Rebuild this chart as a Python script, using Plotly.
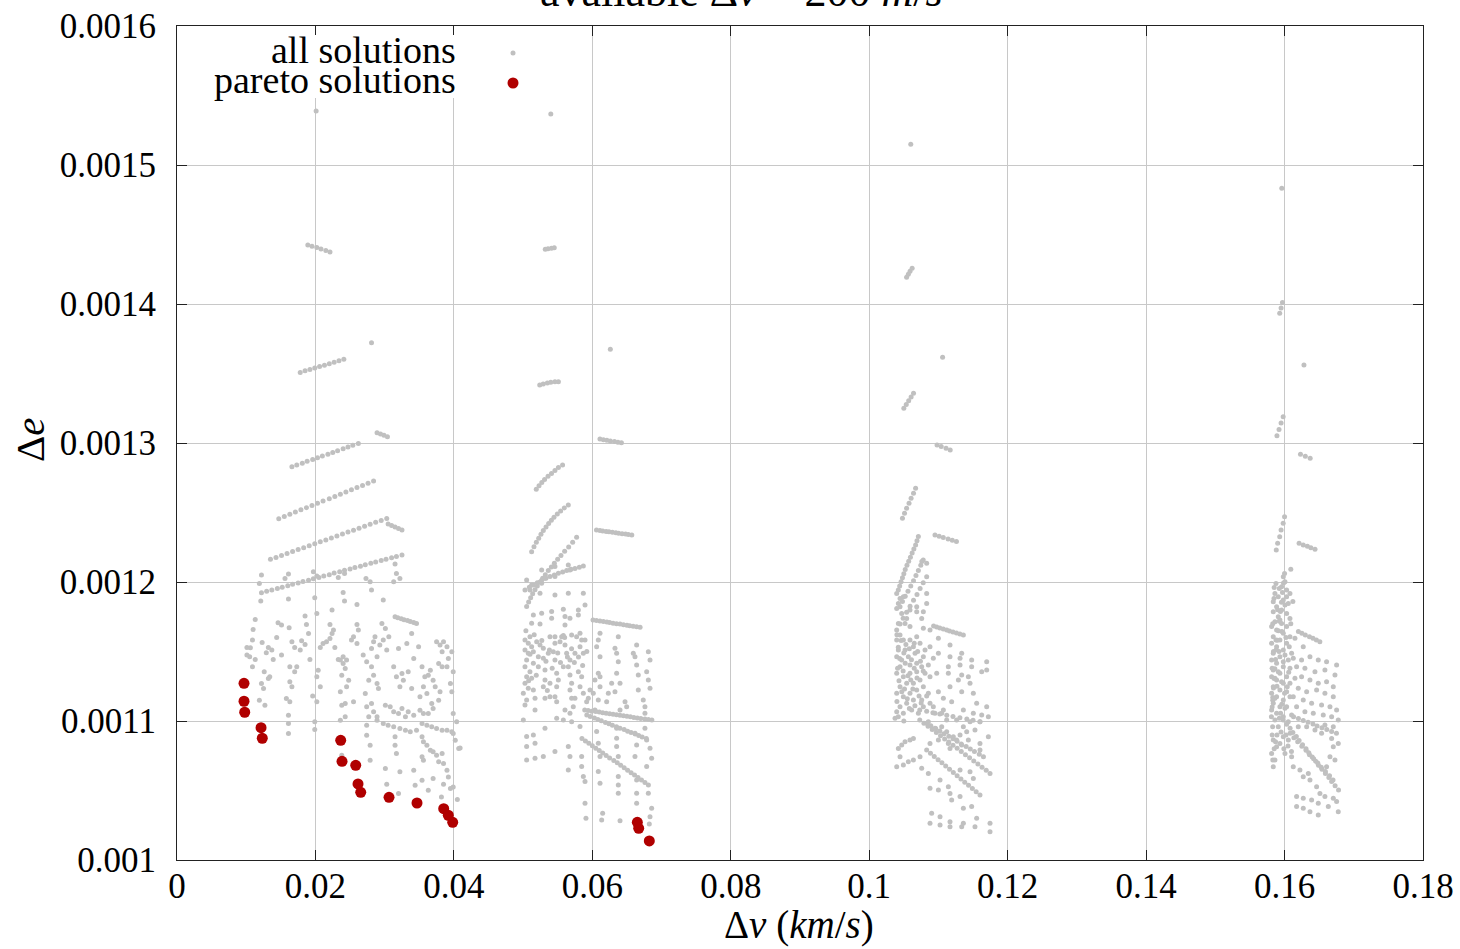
import plotly.graph_objects as go

# ---------------- data (Δv in m/s, Δe in units of 1e-6) ----------------
c1_streaks = [
    (20.1, 1538.8), (28.1, 1372.1),
    (18.9, 1442.4), (19.5, 1441.6), (20.2, 1440.6), (20.8, 1439.6), (21.5, 1438.5), (22.1, 1437.4),
    (17.8, 1350.8), (18.5, 1351.9), (19.2, 1352.9), (19.9, 1353.9), (20.6, 1355.0), (21.3, 1356.0),
    (22.0, 1357.1), (22.7, 1358.1), (23.4, 1359.1), (24.1, 1360.2),
    (28.9, 1307.4), (29.4, 1306.4), (29.9, 1305.5), (30.4, 1304.5),
    (16.6, 1282.9), (17.3, 1284.2), (18.1, 1285.5), (18.8, 1286.8), (19.6, 1288.1), (20.3, 1289.4),
    (21.0, 1290.7), (21.8, 1291.9), (22.5, 1293.2), (23.2, 1294.5), (24.0, 1295.8), (24.7, 1297.1),
    (25.4, 1298.4), (26.2, 1299.7),
    (14.7, 1245.5), (15.5, 1247.1), (16.3, 1248.7), (17.1, 1250.3), (17.9, 1251.9), (18.7, 1253.5),
    (19.5, 1255.1), (20.3, 1256.7), (21.1, 1258.3), (22.0, 1259.9), (22.8, 1261.5), (23.6, 1263.1),
    (24.4, 1264.7), (25.2, 1266.3), (26.0, 1267.9), (26.8, 1269.5), (27.6, 1271.1), (28.4, 1272.7),
    (30.5, 1241.7), (31.0, 1240.6), (31.5, 1239.6), (32.0, 1238.5), (32.5, 1237.4),
    (13.5, 1216.3), (14.3, 1217.7), (15.1, 1219.1), (15.9, 1220.5), (16.7, 1221.9), (17.5, 1223.3),
    (18.3, 1224.7), (19.1, 1226.1), (19.9, 1227.5), (20.7, 1228.9), (21.5, 1230.3), (22.3, 1231.7),
    (23.1, 1233.1), (23.9, 1234.5), (24.7, 1235.9), (25.5, 1237.3), (26.3, 1238.7), (27.1, 1240.1),
    (27.9, 1241.5), (28.7, 1242.9), (29.5, 1244.3), (30.3, 1245.7),
    (12.2, 1192.3), (12.95, 1193.3), (13.7, 1194.3), (14.5, 1195.3), (15.2, 1196.3), (16.0, 1197.3),
    (16.7, 1198.3), (17.5, 1199.3), (18.2, 1200.3), (19.0, 1201.3), (19.7, 1202.3), (20.5, 1203.3),
    (21.2, 1204.3), (22.0, 1205.3), (22.7, 1206.4), (23.5, 1207.4), (24.2, 1208.4), (25.0, 1209.4),
    (25.7, 1210.4), (26.5, 1211.4), (27.2, 1212.4), (28.0, 1213.4), (28.7, 1214.4), (29.5, 1215.4),
    (30.2, 1216.4), (31.0, 1217.4), (31.7, 1218.4), (32.5, 1219.4),
    (31.5, 1175.0), (31.9, 1174.3), (32.4, 1173.6), (32.8, 1172.9), (33.3, 1172.3), (33.7, 1171.6),
    (34.2, 1170.9), (34.6, 1170.2),
    (28.9, 1100.6), (29.8, 1098.2), (30.5, 1097.0), (31.3, 1095.8), (32.2, 1094.6), (33.0, 1093.4),
    (33.7, 1092.2), (34.6, 1093.4), (35.4, 1098.2), (36.1, 1097.0), (36.8, 1095.8), (37.5, 1094.6),
    (38.3, 1093.4), (39.0, 1093.4), (39.7, 1092.2),
]

c1_scatter = [
    (12.2, 1205.0), (11.9, 1199.0), (16.1, 1205.7), (15.6, 1202.6), (19.7, 1207.4), (20.2, 1204.3),
    (23.3, 1203.3), (24.2, 1206.2), (27.3, 1202.6), (27.9, 1200.2), (28.1, 1194.2), (31.5, 1212.9),
    (31.7, 1206.2), (32.2, 1202.6), (31.3, 1200.2), (12.1, 1186.3), (16.1, 1187.7), (19.9, 1188.7),
    (24.0, 1192.5), (24.2, 1186.3), (26.0, 1183.9), (29.8, 1187.0), (22.4, 1179.8), (20.2, 1177.4),
    (18.5, 1175.5), (11.3, 1173.1), (11.0, 1165.9), (14.6, 1170.7), (15.1, 1169.0), (16.2, 1167.1),
    (18.7, 1169.5), (22.1, 1169.5), (26.0, 1169.5), (29.6, 1170.2), (22.6, 1165.4), (30.1, 1166.6),
    (10.9, 1158.2), (10.1, 1152.9), (10.6, 1152.7), (10.1, 1147.4), (10.5, 1146.2), (11.3, 1144.3),
    (12.3, 1156.5), (13.2, 1152.9), (13.7, 1151.0), (12.9, 1149.1), (14.4, 1160.1), (13.9, 1144.3),
    (15.1, 1147.4), (16.6, 1157.0), (17.0, 1152.9), (18.0, 1157.7), (18.5, 1155.1), (19.0, 1163.0),
    (17.8, 1151.0), (19.2, 1144.3), (20.7, 1152.9), (21.1, 1155.8), (21.6, 1157.0), (22.1, 1159.4),
    (22.4, 1163.0), (22.8, 1152.9), (23.3, 1144.3), (24.0, 1146.2), (24.5, 1143.8), (25.2, 1158.2),
    (25.5, 1160.6), (26.2, 1165.4), (26.0, 1155.8), (26.9, 1147.4), (28.1, 1152.2), (28.4, 1157.0),
    (28.6, 1160.6), (28.9, 1146.2), (29.3, 1154.6), (29.8, 1158.2), (30.6, 1160.6), (30.3, 1151.0),
    (32.0, 1152.2), (33.2, 1155.8), (33.9, 1163.0), (34.2, 1145.0), (34.9, 1153.4), (37.5, 1157.0),
    (38.0, 1154.6), (38.3, 1149.8), (38.5, 1157.0), (39.0, 1153.4), (39.2, 1145.0), (39.7, 1149.8),
    (10.9, 1139.0), (12.6, 1135.4), (13.2, 1130.6), (12.2, 1127.0), (12.5, 1123.4), (13.4, 1131.8),
    (16.3, 1139.0), (17.0, 1135.4), (17.3, 1139.0), (16.3, 1128.2), (16.6, 1124.6), (20.4, 1136.6),
    (20.2, 1131.8), (20.7, 1124.6), (23.6, 1143.8), (24.0, 1141.4), (24.3, 1137.8), (23.8, 1133.0),
    (24.8, 1129.4), (24.5, 1124.6), (23.6, 1121.0), (27.4, 1142.6), (28.1, 1139.0), (28.4, 1133.0),
    (27.7, 1129.4), (28.9, 1127.0), (29.1, 1123.4), (31.3, 1139.0), (31.7, 1131.8), (32.5, 1134.2),
    (32.7, 1129.4), (32.2, 1124.6), (33.4, 1135.4), (33.9, 1123.4), (35.4, 1139.0), (35.8, 1131.8),
    (36.3, 1133.0), (36.6, 1136.6), (37.0, 1129.4), (35.6, 1124.6), (37.8, 1141.4), (38.3, 1139.0),
    (39.0, 1139.0), (39.9, 1135.4), (37.3, 1124.6), (39.5, 1127.0), (39.7, 1121.0), (38.0, 1121.0),
    (11.9, 1115.0), (12.7, 1111.4), (15.8, 1116.2), (16.3, 1113.8), (16.1, 1104.2), (19.6, 1117.9),
    (20.2, 1113.8), (24.3, 1112.6), (25.5, 1113.8), (23.8, 1111.4), (27.2, 1119.8), (27.4, 1110.2),
    (28.1, 1112.6), (28.4, 1106.6), (28.9, 1103.0), (27.7, 1103.0), (30.1, 1111.4), (30.8, 1110.2),
    (31.3, 1106.6), (32.0, 1105.4), (32.5, 1109.0), (33.0, 1103.0), (33.4, 1106.6), (34.2, 1104.2),
    (35.1, 1107.8), (35.6, 1105.4), (36.3, 1105.4), (36.8, 1112.6), (37.0, 1109.0), (37.8, 1115.0),
    (35.1, 1117.4), (36.1, 1119.8), (39.9, 1105.4), (40.4, 1099.4), (24.3, 1103.0), (23.6, 1100.6),
    (19.9, 1099.4), (16.1, 1098.2), (16.1, 1091.0), (19.9, 1093.9), (27.4, 1097.0), (27.4, 1089.8),
    (27.9, 1082.6), (31.5, 1088.6), (31.5, 1082.6), (31.7, 1076.6), (35.4, 1088.6), (35.6, 1085.0),
    (36.1, 1082.6), (36.6, 1079.0), (37.0, 1077.8), (37.5, 1075.4), (38.3, 1076.6), (37.8, 1070.6),
    (38.5, 1069.4), (39.9, 1091.0), (40.2, 1086.2), (40.7, 1080.2), (35.6, 1071.8), (35.4, 1074.2),
    (34.2, 1064.6), (32.2, 1063.4), (30.1, 1065.8), (27.9, 1071.8), (23.8, 1075.4), (39.0, 1064.6),
    (39.2, 1059.8), (30.3, 1054.5), (32.0, 1047.8), (34.4, 1053.8), (35.4, 1057.4), (36.3, 1050.2),
    (37.0, 1058.6), (38.5, 1054.5), (39.5, 1051.4), (39.9, 1052.6), (38.2, 1045.4), (40.5, 1043.5),
    (40.9, 1080.6),
]

c2_streaks = [
    (54.0, 1536.7), (62.6, 1367.4),
    (53.2, 1439.3), (53.6, 1439.7), (54.1, 1440.1), (54.5, 1440.5),
    (52.4, 1341.7), (52.9, 1342.5), (53.5, 1343.2), (54.0, 1343.7), (54.6, 1344.0), (55.1, 1344.1),
    (61.1, 1302.9), (61.6, 1302.4), (62.1, 1302.0), (62.6, 1301.5), (63.2, 1301.0), (63.7, 1300.6),
    (64.2, 1300.1),
    (51.9, 1266.7), (52.3, 1269.2), (52.7, 1271.6), (53.1, 1273.8), (53.6, 1276.0), (54.1, 1278.1),
    (54.6, 1280.2), (55.1, 1282.3), (55.7, 1284.2),
    (51.23, 1221.8), (51.57, 1225.4), (51.91, 1228.6), (52.25, 1231.4), (52.58, 1234.3), (52.92, 1237.0),
    (53.31, 1239.6), (53.69, 1242.0), (54.08, 1244.4), (54.46, 1246.5), (54.94, 1248.9), (55.42, 1251.1),
    (55.95, 1253.3), (56.53, 1255.4),
    (50.51, 1182.3), (50.80, 1185.6), (51.09, 1188.7), (51.38, 1191.6), (51.72, 1194.5), (52.05, 1197.1),
    (52.44, 1200.0), (52.82, 1202.7), (53.21, 1205.3), (53.64, 1208.2), (54.08, 1210.8), (54.51, 1213.4),
    (54.99, 1216.3), (55.47, 1219.0), (56.0, 1222.1), (56.58, 1225.2), (57.16, 1228.6), (57.73, 1232.2),
    (60.6, 1237.4), (61.1, 1237.1), (61.5, 1236.7), (62.0, 1236.4), (62.4, 1236.1), (62.9, 1235.8),
    (63.4, 1235.4), (63.8, 1235.1), (64.3, 1234.8), (64.8, 1234.5), (65.2, 1234.1), (65.7, 1233.8),
    (50.27, 1194.3), (50.90, 1196.2), (51.48, 1197.9), (52.05, 1199.5), (52.68, 1201.2), (53.30, 1202.7),
    (53.88, 1203.9), (54.51, 1205.1), (55.09, 1206.3), (55.71, 1207.2), (56.29, 1208.2), (56.92, 1209.1),
    (57.49, 1209.8), (58.12, 1210.6), (58.70, 1211.5),
    (60.1, 1172.7), (60.6, 1172.3), (61.1, 1171.9), (61.6, 1171.6), (62.1, 1171.2), (62.5, 1170.8),
    (63.0, 1170.4), (63.5, 1170.0), (64.0, 1169.7), (64.5, 1169.3), (65.0, 1168.9), (65.4, 1168.5),
    (65.9, 1168.2), (66.4, 1167.8), (66.9, 1167.4),
    (58.9, 1107.9), (59.4, 1107.5), (59.9, 1107.1), (60.5, 1106.8), (61.0, 1106.4), (61.5, 1106.0),
    (62.0, 1105.6), (62.5, 1105.2), (63.0, 1104.9), (63.5, 1104.5), (64.0, 1104.1), (64.5, 1103.7),
    (65.0, 1103.4), (65.5, 1103.0), (66.0, 1102.6), (66.5, 1102.2), (67.0, 1101.8), (67.6, 1101.5),
    (68.1, 1101.1), (68.6, 1100.7),
    (59.2, 1104.3), (59.7, 1103.3), (60.3, 1102.2), (60.8, 1101.1), (61.3, 1100.1), (61.9, 1099.0),
    (62.4, 1098.0), (62.9, 1096.9), (63.5, 1095.9), (64.0, 1094.8), (64.6, 1093.8), (65.1, 1092.7),
    (65.6, 1091.7), (66.2, 1090.6), (66.7, 1089.6), (67.2, 1088.5), (67.8, 1087.5),
    (58.5, 1087.5), (59.0, 1085.7), (59.5, 1084.0), (60.0, 1082.2), (60.5, 1080.4), (61.0, 1078.7),
    (61.5, 1076.9), (62.0, 1075.2), (62.5, 1073.4), (63.1, 1071.6), (63.6, 1069.9), (64.1, 1068.1),
    (64.6, 1066.4), (65.1, 1064.6), (65.6, 1062.8), (66.1, 1061.1), (66.6, 1059.3), (67.1, 1057.6),
    (67.6, 1055.8), (68.1, 1054.0),
]

c2_scatter = [
    (54.60, 1211.1), (56.53, 1212.3), (56.77, 1208.7), (52.68, 1208.7), (53.16, 1202.7), (54.60, 1203.9),
    (52.68, 1199.1), (51.23, 1197.9), (50.51, 1201.5), (50.99, 1194.3), (52.44, 1191.9), (54.60, 1190.7),
    (56.53, 1191.9), (58.70, 1191.9), (58.94, 1183.5), (57.98, 1179.9), (55.81, 1180.4), (54.12, 1178.7),
    (52.68, 1177.5), (51.48, 1176.3), (51.23, 1170.3), (52.44, 1169.8), (54.12, 1173.9), (56.05, 1175.1),
    (56.05, 1169.1), (56.77, 1173.9), (57.98, 1176.3),
    (50.27, 1158.3), (50.75, 1155.9), (51.23, 1153.5), (50.27, 1151.1), (50.75, 1148.7), (51.48, 1149.9),
    (51.96, 1157.1), (52.44, 1154.7), (52.92, 1152.3), (52.20, 1146.3), (50.51, 1143.9), (51.48, 1141.5),
    (50.27, 1139.1), (50.99, 1135.5), (50.51, 1131.9), (50.27, 1127.1), (50.75, 1123.5), (50.03, 1119.9),
    (50.51, 1115.1), (50.27, 1111.5), (51.48, 1122.3), (51.72, 1116.3), (51.72, 1107.9), (52.92, 1145.1),
    (53.16, 1136.7), (53.16, 1129.5), (52.92, 1124.7), (53.16, 1116.3), (54.60, 1160.7), (54.60, 1155.9),
    (54.36, 1149.9), (54.60, 1143.9), (54.85, 1134.3), (55.09, 1129.5), (54.85, 1124.7), (54.60, 1117.5),
    (55.57, 1160.7), (56.05, 1154.7), (56.29, 1148.7), (56.77, 1143.9), (56.53, 1139.1), (56.77, 1133.1),
    (57.01, 1127.1), (56.77, 1122.3), (57.01, 1116.3), (57.25, 1110.3), (57.73, 1160.7), (58.22, 1163.1),
    (58.46, 1158.3), (58.22, 1153.5), (58.70, 1148.7), (57.98, 1135.5), (58.46, 1131.9), (58.22, 1124.7),
    (58.70, 1119.9), (57.49, 1116.3), (59.18, 1113.9), (58.94, 1158.3), (57.49, 1148.7), (55.81, 1161.5),
    (57.01, 1161.9), (55.33, 1157.1), (53.88, 1160.7), (53.64, 1148.7), (50.99, 1160.7), (51.23, 1130.7),
    (53.88, 1127.1), (55.81, 1139.1), (53.88, 1117.5), (54.85, 1113.9), (56.05, 1107.9), (56.77, 1105.5),
    (57.01, 1099.5), (55.81, 1100.7), (58.22, 1096.0),
    (50.4, 1165.0), (51.0, 1148.0), (51.6, 1162.0), (52.2, 1139.0), (52.7, 1158.0), (53.3, 1143.0),
    (53.8, 1151.0), (54.2, 1138.0), (55.0, 1149.0), (55.4, 1142.0), (56.0, 1160.0), (56.4, 1146.0),
    (57.0, 1152.0), (57.4, 1142.0), (58.0, 1146.0), (58.6, 1140.0), (59.2, 1150.0), (50.8, 1129.0),
    (51.9, 1133.0), (53.5, 1122.0),
    (50.03, 1100.7), (50.51, 1088.8), (51.48, 1090.0), (50.51, 1081.6), (51.72, 1084.0), (50.51, 1072.0),
    (51.72, 1073.2), (52.92, 1074.4), (53.16, 1094.8), (54.85, 1101.9), (54.60, 1078.0), (56.53, 1081.6),
    (56.77, 1074.4), (56.53, 1064.8), (58.46, 1074.4), (58.46, 1067.2), (58.70, 1060.0), (58.94, 1056.4),
    (61.11, 1163.1), (60.86, 1158.3), (60.62, 1153.5), (61.11, 1146.3), (60.86, 1134.3), (60.38, 1129.5),
    (61.11, 1131.9), (63.75, 1160.7), (63.27, 1152.3), (63.51, 1148.7), (63.75, 1142.7), (63.51, 1134.3),
    (62.79, 1127.1), (63.27, 1121.1), (64.0, 1127.1), (65.92, 1148.7), (66.16, 1146.3), (66.40, 1140.3),
    (66.40, 1154.7), (66.64, 1133.1), (66.64, 1122.3), (68.09, 1149.9), (68.33, 1143.9), (67.85, 1135.5),
    (68.09, 1129.5), (68.33, 1123.5), (67.36, 1115.1), (67.60, 1110.3), (67.60, 1105.5), (62.31, 1119.9),
    (61.11, 1124.7), (62.07, 1113.9), (64.0, 1107.9), (64.72, 1113.9), (64.96, 1110.3), (60.86, 1115.1),
    (60.14, 1119.9), (59.66, 1122.3), (59.42, 1116.3), (60.38, 1107.9),
    (60.62, 1092.4), (60.86, 1084.0), (61.11, 1074.4), (60.86, 1063.6), (61.11, 1055.2), (63.51, 1094.8),
    (63.51, 1087.6), (63.51, 1081.6), (63.75, 1074.4), (63.75, 1060.0), (63.75, 1054.0), (63.75, 1048.0),
    (66.16, 1091.2), (66.40, 1082.8), (66.16, 1074.4), (66.40, 1057.6), (66.40, 1048.0), (66.40, 1040.8),
    (67.60, 1094.8), (67.85, 1086.4), (68.33, 1080.4), (68.57, 1073.2), (67.85, 1067.2), (68.09, 1048.0),
    (68.57, 1037.2), (68.33, 1031.2), (68.23, 1025.9), (58.94, 1040.8), (59.08, 1030.0), (61.49, 1033.6),
    (61.35, 1028.8), (64.0, 1028.3),
]

c3_streaks = [
    (106.0, 1514.9), (110.6, 1361.7),
    (105.4, 1419.2), (105.65, 1421.4), (105.9, 1423.5), (106.2, 1425.7),
    (105.0, 1325.0), (105.35, 1327.7), (105.7, 1330.4), (106.05, 1333.1), (106.4, 1335.8),
    (109.8, 1298.6), (110.4, 1297.4), (111.1, 1296.2), (111.7, 1295.0),
    (104.8, 1245.8), (105.1, 1249.4), (105.4, 1253.0), (105.75, 1256.6), (106.05, 1260.2), (106.4, 1263.8),
    (106.7, 1267.4),
    (109.5, 1233.9), (110.1, 1232.9), (110.7, 1232.0), (111.4, 1231.0), (112.0, 1230.1), (112.6, 1229.1),
    (104.2, 1194.2), (104.4, 1197.2), (104.6, 1200.1), (104.8, 1203.1), (105.0, 1206.0), (105.2, 1209.0),
    (105.45, 1212.0), (105.7, 1214.9), (105.95, 1217.8), (106.2, 1220.8), (106.45, 1223.8), (106.7, 1226.7),
    (106.9, 1229.7), (107.1, 1232.7), (107.6, 1214.7), (108.3, 1213.5),
    (104.45, 1182.2), (104.8, 1185.9), (105.2, 1189.7), (105.6, 1193.4), (106.0, 1197.1), (106.4, 1200.9),
    (106.75, 1204.6), (107.1, 1208.3), (107.45, 1212.1), (107.8, 1215.8),
    (103.97, 1165.5), (104.45, 1169.8), (104.9, 1174.0), (105.4, 1178.3), (105.9, 1182.5), (106.4, 1186.8),
    (106.9, 1191.0), (107.35, 1195.3), (107.8, 1199.5), (108.3, 1203.8),
    (109.3, 1168.3), (109.75, 1167.6), (110.2, 1166.9), (110.7, 1166.2), (111.2, 1165.5), (111.6, 1164.7),
    (112.1, 1164.0), (112.6, 1163.3), (113.1, 1162.6), (113.6, 1161.9),
    (107.3, 1100.7), (107.9, 1098.4), (108.5, 1096.2), (109.1, 1093.9), (109.7, 1091.7), (110.3, 1089.4),
    (110.9, 1087.1), (111.5, 1084.9), (112.1, 1082.6), (112.7, 1080.4), (113.3, 1078.1), (113.9, 1075.8),
    (114.5, 1073.6), (115.1, 1071.3), (115.7, 1069.1), (116.3, 1066.8), (116.9, 1064.5), (117.45, 1062.3),
    (108.3, 1079.1), (108.85, 1076.8), (109.4, 1074.5), (109.95, 1072.2), (110.5, 1069.9), (111.05, 1067.6),
    (111.6, 1065.3), (112.15, 1063.0), (112.7, 1060.6), (113.25, 1058.3), (113.8, 1056.0), (114.35, 1053.7),
    (114.9, 1051.4), (115.45, 1049.1), (116.0, 1046.8),
    (108.3, 1098.3), (108.9, 1096.5), (109.6, 1094.6), (110.2, 1092.8), (110.8, 1090.9), (111.5, 1089.1),
    (112.1, 1087.2), (112.7, 1085.4), (113.3, 1083.5), (114.0, 1081.7), (114.6, 1079.8), (115.2, 1078.0),
    (115.9, 1076.1), (116.5, 1074.3),
    (107.3, 1107.9), (108.3, 1107.0), (109.2, 1106.0), (110.2, 1105.1), (111.2, 1104.2), (112.1, 1103.3),
    (113.1, 1102.3), (114.1, 1101.4), (115.0, 1100.5), (116.0, 1099.5),
]

c3_scatter = [
    (103.97, 1191.8), (104.45, 1188.2), (104.93, 1189.4), (104.21, 1184.6), (103.97, 1181.0), (104.69, 1177.4),
    (105.41, 1173.8), (105.17, 1170.2), (104.21, 1170.2), (105.89, 1179.8), (106.86, 1182.2), (106.86, 1178.6),
    (107.58, 1173.8), (107.82, 1178.6), (108.30, 1184.6), (108.30, 1191.8), (107.82, 1166.7), (108.78, 1165.5),
    (105.89, 1167.9), (104.45, 1161.9), (104.93, 1158.3), (103.97, 1158.3), (105.89, 1158.3), (106.86, 1160.7),
    (107.34, 1155.9), (106.38, 1153.5), (105.17, 1151.1), (104.21, 1151.1), (103.97, 1146.3), (104.69, 1143.9),
    (105.65, 1146.3), (106.62, 1148.7), (108.06, 1151.1), (108.78, 1153.5), (107.82, 1146.3), (106.86, 1141.5),
    (105.89, 1140.3), (104.45, 1139.1), (103.97, 1134.3), (104.93, 1131.9), (105.89, 1134.3), (106.86, 1135.5),
    (107.58, 1139.1), (108.54, 1140.3), (109.26, 1145.1), (109.99, 1148.7), (108.06, 1134.3), (108.78, 1131.9),
    (109.75, 1134.3), (107.34, 1129.5), (106.38, 1127.1), (105.41, 1127.1), (104.45, 1124.7), (103.97, 1119.9),
    (104.93, 1117.5), (105.89, 1119.9), (106.86, 1122.3), (107.82, 1124.7), (108.54, 1119.9), (107.58, 1115.1),
    (106.38, 1115.1), (105.41, 1112.7), (104.45, 1110.3), (103.97, 1106.7), (104.93, 1105.5), (106.13, 1107.9),
    (107.10, 1105.5), (107.82, 1110.3), (108.78, 1112.7), (109.50, 1105.5), (103.73, 1101.9), (108.54, 1099.5),
    (109.50, 1094.7), (110.47, 1095.9), (111.19, 1092.3), (112.15, 1088.7), (113.12, 1089.9), (114.08, 1092.3),
    (115.28, 1093.5), (110.47, 1105.5), (111.19, 1100.7), (112.63, 1100.7), (113.60, 1095.9), (114.56, 1099.5),
    (104.0, 1162.0), (104.6, 1158.0), (105.3, 1155.0), (104.2, 1153.0), (105.0, 1149.0), (105.8, 1152.0),
    (106.5, 1156.0), (104.4, 1145.0), (105.2, 1141.5), (106.1, 1144.0), (107.0, 1150.0), (104.1, 1138.0),
    (104.9, 1136.0), (105.6, 1132.5), (106.5, 1138.0), (107.4, 1143.0), (104.3, 1129.0), (105.1, 1123.0),
    (106.0, 1129.5), (106.9, 1131.0), (107.8, 1136.0), (104.0, 1114.0), (104.7, 1121.0), (105.5, 1116.0),
    (106.3, 1123.0), (107.2, 1118.0), (104.2, 1103.0), (105.0, 1100.0), (105.8, 1109.0), (106.6, 1111.0),
    (107.5, 1113.0), (108.3, 1118.0),
    (116.97, 1142.7), (116.97, 1136.7), (116.25, 1135.5), (114.80, 1143.9), (114.80, 1139.1), (113.36, 1148.7),
    (113.12, 1145.1), (113.12, 1140.3), (111.67, 1154.7), (109.99, 1159.5), (111.67, 1146.3), (111.43, 1139.1),
    (111.43, 1134.3), (113.36, 1133.1), (112.88, 1129.5), (114.32, 1131.9), (114.56, 1127.1), (115.04, 1119.9),
    (113.36, 1121.1), (111.67, 1124.7), (115.52, 1112.7), (116.97, 1110.3), (117.21, 1103.1), (117.21, 1088.7),
    (116.25, 1104.3), (116.0, 1099.5), (113.60, 1107.9), (115.04, 1105.5), (111.91, 1113.9), (110.71, 1116.3),
    (109.99, 1121.1), (109.26, 1110.3), (110.71, 1107.9),
    (104.21, 1080.3), (104.69, 1082.7), (105.17, 1085.1), (105.89, 1086.3), (106.38, 1087.5), (104.45, 1074.3),
    (103.97, 1067.1), (104.93, 1068.3), (105.65, 1070.7), (106.38, 1071.9), (107.34, 1074.3), (107.58, 1066.0),
    (108.54, 1062.3), (108.78, 1051.6), (110.23, 1057.5), (109.99, 1050.4), (111.43, 1052.7), (111.67, 1047.9),
    (111.91, 1043.2), (113.12, 1045.6), (113.12, 1064.7), (114.56, 1063.5), (115.04, 1058.7), (116.0, 1083.9),
    (116.0, 1079.1), (114.32, 1086.3), (113.36, 1082.7), (112.63, 1086.3), (111.67, 1080.3), (111.43, 1083.9),
    (109.99, 1086.3), (108.78, 1083.9), (109.02, 1033.6), (110.23, 1031.2), (111.67, 1027.6), (113.60, 1026.4),
    (115.28, 1024.0), (117.45, 1026.4), (117.45, 1020.4), (108.78, 1026.4), (110.23, 1025.2), (111.67, 1024.0),
    (113.36, 1024.0), (115.52, 1030.0), (113.60, 1037.2), (114.80, 1038.4),
]

c4_streaks = [
    (159.6, 1483.2), (162.8, 1356.1), (160.9, 1209.1),
    (159.3, 1393.3), (159.5, 1397.2), (159.7, 1401.0),
    (158.9, 1305.3), (159.2, 1309.8), (159.5, 1314.4), (159.8, 1318.9),
    (162.3, 1291.9), (163.0, 1290.5), (163.7, 1289.0),
    (158.8, 1223.0), (159.0, 1227.8), (159.3, 1232.6), (159.5, 1237.4), (159.8, 1242.2), (160.0, 1247.0),
    (162.1, 1227.8), (162.7, 1226.7), (163.3, 1225.7), (163.8, 1224.6), (164.4, 1223.5),
    (162.0, 1164.3), (162.5, 1163.1), (163.0, 1161.9), (163.6, 1160.7), (164.1, 1159.5), (164.6, 1158.3),
    (165.1, 1157.1),
    (158.1, 1103.1), (158.2, 1110.0), (158.3, 1116.9), (158.4, 1123.7), (158.5, 1130.6), (158.6, 1137.5),
    (158.7, 1144.3), (158.8, 1151.2), (158.95, 1158.1), (159.1, 1164.9), (159.25, 1171.8), (159.4, 1178.7),
    (159.55, 1185.5), (159.7, 1192.4), (159.85, 1199.3), (160.0, 1206.2),
    (159.8, 1100.7), (160.3, 1097.7), (160.8, 1094.8), (161.2, 1091.8), (161.7, 1088.9), (162.1, 1085.9),
    (162.6, 1083.0), (163.1, 1080.0), (163.5, 1077.1), (164.0, 1074.1), (164.5, 1071.1), (164.9, 1068.2),
    (165.4, 1065.2), (165.9, 1062.3), (166.4, 1059.3), (166.8, 1056.4), (167.3, 1053.4), (167.8, 1050.4),
    (160.8, 1091.1), (161.35, 1088.0), (161.9, 1085.0), (162.5, 1081.9), (163.1, 1078.9), (163.6, 1075.8),
    (164.2, 1072.8), (164.8, 1069.7), (165.3, 1066.7), (165.9, 1063.6), (166.5, 1060.6), (167.0, 1057.5),
    (161.3, 1103.1), (162.0, 1101.8), (162.7, 1100.4), (163.4, 1099.1), (164.1, 1097.8), (164.7, 1096.4),
    (165.4, 1095.1), (166.1, 1093.8), (166.8, 1092.4), (167.5, 1091.1),
]

c4_scatter = [
    (159.82, 1203.8), (160.06, 1200.2), (159.57, 1196.6), (160.30, 1194.2), (160.78, 1191.8), (158.61, 1191.8),
    (159.09, 1189.4), (159.82, 1187.0), (158.37, 1185.8), (160.54, 1184.6), (158.85, 1182.2), (159.57, 1179.8),
    (158.37, 1178.6), (160.30, 1177.4), (159.09, 1175.0), (160.78, 1173.8), (158.61, 1171.4), (159.57, 1170.2),
    (158.13, 1167.9), (160.30, 1167.9), (158.85, 1165.5), (159.82, 1163.1), (158.37, 1160.7), (160.78, 1160.7),
    (159.33, 1158.3), (158.13, 1155.9), (160.30, 1155.9), (158.85, 1153.5), (159.82, 1151.1), (158.37, 1148.7),
    (161.02, 1148.7), (159.33, 1146.3), (158.13, 1143.9), (160.54, 1143.9), (158.85, 1141.5), (159.82, 1139.1),
    (158.37, 1136.7), (160.78, 1137.9), (159.33, 1134.3), (158.13, 1131.9), (160.30, 1131.9), (158.85, 1129.5),
    (159.82, 1127.1), (158.37, 1124.7), (160.78, 1127.1), (159.33, 1122.3), (158.13, 1119.9), (160.30, 1121.1),
    (158.85, 1117.5), (159.82, 1115.1), (158.37, 1112.7), (160.78, 1117.5), (159.33, 1110.3), (158.13, 1107.9),
    (160.30, 1110.3), (158.85, 1105.5), (159.82, 1103.1), (158.61, 1100.7), (158.27, 1095.9), (160.54, 1099.5),
    (158.76, 1199.0), (159.24, 1195.4), (158.47, 1188.2), (160.06, 1183.4), (159.33, 1172.6), (158.76, 1158.3),
    (160.06, 1147.5), (159.09, 1135.5), (159.57, 1128.3), (158.61, 1116.3), (160.06, 1109.1), (159.24, 1101.9),
    (160.30, 1189.4), (159.62, 1164.3), (160.68, 1153.5), (159.82, 1142.7), (158.61, 1130.7), (160.39, 1124.7),
    (159.09, 1095.9), (159.43, 1105.5),
    (158.2, 1090.0), (158.5, 1080.0), (158.3, 1072.0), (158.9, 1090.0), (159.5, 1092.0), (160.2, 1090.0),
    (158.7, 1085.0), (159.9, 1080.0), (160.5, 1082.0), (161.0, 1078.0), (158.5, 1196.0), (159.0, 1180.0),
    (159.2, 1150.0), (158.9, 1125.0), (159.6, 1112.0), (160.0, 1120.0), (160.6, 1135.0), (160.2, 1160.0),
    (160.9, 1170.0), (161.2, 1186.0), (158.3, 1170.0), (158.4, 1150.0), (158.2, 1138.0), (158.3, 1115.0),
    (161.50, 1159.5), (162.70, 1153.5), (161.26, 1145.1), (162.46, 1143.9), (163.67, 1146.3), (164.87, 1143.9),
    (166.07, 1142.7), (167.52, 1140.3), (161.74, 1139.1), (162.94, 1137.9), (164.39, 1135.5), (165.83, 1136.7),
    (167.28, 1133.1), (161.50, 1130.7), (162.46, 1131.9), (163.67, 1129.5), (164.87, 1127.1), (166.07, 1128.3),
    (167.04, 1124.7), (161.98, 1123.5), (163.19, 1121.1), (164.63, 1122.3), (165.83, 1119.9), (167.04, 1117.5),
    (161.26, 1117.5), (162.70, 1115.1), (163.91, 1112.7), (165.35, 1111.5), (166.56, 1110.3), (167.52, 1107.9),
    (161.74, 1110.3), (162.94, 1106.7), (164.15, 1105.5), (165.59, 1104.3), (166.80, 1103.1), (167.76, 1100.7),
    (161.02, 1104.3),
    (158.37, 1086.3), (158.85, 1081.5), (158.13, 1076.7), (158.61, 1071.9), (158.37, 1067.1), (159.33, 1083.9),
    (159.82, 1088.7), (160.54, 1086.3), (160.06, 1076.7), (161.02, 1074.3), (161.26, 1067.1), (162.22, 1064.7),
    (162.70, 1059.9), (163.43, 1062.3), (163.67, 1057.5), (164.63, 1052.7), (165.11, 1047.9), (165.83, 1045.6),
    (167.04, 1044.4), (161.74, 1045.6), (162.70, 1044.4), (163.91, 1043.2), (164.87, 1040.8), (166.32, 1038.4),
    (167.52, 1042.0), (161.74, 1038.4), (162.70, 1037.2), (163.67, 1034.8), (164.87, 1032.4), (167.76, 1034.8),
    (166.80, 1087.5), (167.04, 1081.5), (167.76, 1083.9), (166.56, 1074.3), (166.07, 1067.1), (167.28, 1071.9),
    (165.35, 1091.1), (164.39, 1093.5), (163.19, 1095.9), (161.98, 1095.9), (165.83, 1097.1), (167.04, 1095.9),
]

pareto = [
    (9.68, 1127.1), (9.68, 1114.2), (9.78, 1106.3), (12.14, 1095.2), (12.32, 1087.6), (23.65, 1086.1),
    (23.84, 1071.0), (25.82, 1068.1), (26.15, 1054.7), (26.54, 1048.7), (30.63, 1045.1), (34.67, 1041.0),
    (38.53, 1036.9), (39.19, 1032.2), (39.83, 1027.1), (66.50, 1027.1), (66.70, 1022.8), (68.23, 1013.7),
]

x_ticks = [0, 0.02, 0.04, 0.06, 0.08, 0.1, 0.12, 0.14, 0.16, 0.18]
x_tick_labels = ["0", "0.02", "0.04", "0.06", "0.08", "0.1", "0.12", "0.14", "0.16", "0.18"]
y_ticks = [0.001, 0.0011, 0.0012, 0.0013, 0.0014, 0.0015, 0.0016]
y_tick_labels = ["0.001", "0.0011", "0.0012", "0.0013", "0.0014", "0.0015", "0.0016"]

# ---------------- figure ----------------
all_pts = c1_streaks + c1_scatter + c2_streaks + c2_scatter + c3_streaks + c3_scatter + c4_streaks + c4_scatter
all_dv = [p[0] / 1000.0 for p in all_pts]      # m/s -> km/s
all_de = [p[1] * 1e-6 for p in all_pts]
par_dv = [p[0] / 1000.0 for p in pareto]
par_de = [p[1] * 1e-6 for p in pareto]

FONT = "Liberation Serif"
GRAY = "#c0c0c0"
RED = "#b00000"

fig = go.Figure()
fig.add_trace(go.Scatter(x=all_dv, y=all_de, mode="markers", name="all solutions",
                         marker=dict(size=5, color=GRAY, line=dict(width=0)), showlegend=False))
fig.add_trace(go.Scatter(x=par_dv, y=par_de, mode="markers", name="pareto solutions",
                         marker=dict(size=11, color=RED, line=dict(width=0)), showlegend=False))

L, R, T, B = 177, 37, 26, 89
PW, PH = 1460 - L - R, 949 - T - B


def px(xp):
    return (xp - L) / PW


def py(yp):
    return (949 - B - yp) / PH


axis_common = dict(showgrid=True, gridcolor="#c8c8c8", gridwidth=1, zeroline=False,
                   showline=True, linecolor="#222222", linewidth=1, mirror="ticks",
                   ticks="inside", ticklen=10, tickwidth=1, tickcolor="#222222",
                   tickfont=dict(family=FONT, size=35, color="black"), automargin=False)

fig.update_xaxes(range=[0, 0.18], tickvals=x_ticks, ticktext=x_tick_labels, ticklabelstandoff=-5, **axis_common)
fig.update_yaxes(range=[0.001, 0.0016], tickvals=y_ticks, ticktext=y_tick_labels, ticklabelstandoff=13, **axis_common)

fig.update_layout(
    width=1460, height=949, template="none",
    paper_bgcolor="white", plot_bgcolor="white",
    margin=dict(l=L, r=R, t=T, b=B, pad=0),
    showlegend=False,
    shapes=[
        dict(type="rect", xref="paper", yref="paper", x0=px(205), x1=px(532), y0=py(98), y1=py(35),
             fillcolor="white", line=dict(width=0), layer="above"),
        dict(type="circle", xref="paper", yref="paper", xsizemode="pixel", ysizemode="pixel",
             xanchor=px(513), yanchor=py(53), x0=-2.5, x1=2.5, y0=-2.5, y1=2.5,
             fillcolor=GRAY, line=dict(width=0), layer="above"),
        dict(type="circle", xref="paper", yref="paper", xsizemode="pixel", ysizemode="pixel",
             xanchor=px(513), yanchor=py(83), x0=-5.5, x1=5.5, y0=-5.5, y1=5.5,
             fillcolor=RED, line=dict(width=0), layer="above"),
    ],
    annotations=[
        dict(text="all solutions", xref="paper", yref="paper", x=px(458), y=py(50),
             xanchor="right", yanchor="middle", showarrow=False,
             font=dict(family=FONT, size=38, color="black")),
        dict(text="pareto solutions", xref="paper", yref="paper", x=px(458), y=py(80),
             xanchor="right", yanchor="middle", showarrow=False,
             font=dict(family=FONT, size=38, color="black")),
        dict(text="Δ<i>v</i> (<i>km</i>/<i>s</i>)", xref="paper", yref="paper", x=px(799), y=py(925),
             xanchor="center", yanchor="middle", showarrow=False,
             font=dict(family=FONT, size=39, color="black")),
        dict(text="Δ<i>e</i>", xref="paper", yref="paper", x=px(30), y=py(440),
             xanchor="center", yanchor="middle", showarrow=False, textangle=-90,
             font=dict(family=FONT, size=41, color="black")),
        dict(text="available Δ<i>v</i> = 200 <i>m</i>/<i>s</i>", xref="paper", yref="paper",
             x=px(741), y=py(-9), xanchor="center", yanchor="middle", showarrow=False,
             font=dict(family=FONT, size=44, color="black")),
    ],
)

fig.write_html("out.html")
